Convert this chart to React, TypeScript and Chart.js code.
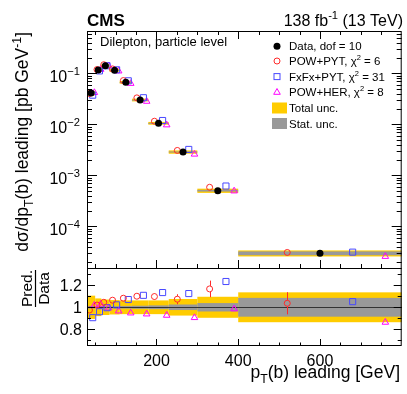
import { useEffect, useRef } from "react";
import { Chart, registerables } from "chart.js";

Chart.register(...registerables);

// ---------------- data ----------------
const binEdges = [30, 50, 65, 85, 110, 140, 180, 230, 300, 400, 800];
const dataValues = [0.0411, 0.116, 0.141, 0.1145, 0.0666, 0.02996, 0.01047, 0.00286, 0.000499, 0.0000296];
const totalUnc = [0.105, 0.08, 0.07, 0.065, 0.062, 0.062, 0.062, 0.075, 0.095, 0.135];
const statUnc = [0.012, 0.01, 0.01, 0.01, 0.012, 0.014, 0.017, 0.025, 0.038, 0.085];
const ratioPowPyt = [0.975, 1.02, 1.045, 1.064, 1.082, 1.1, 1.097, 1.073, 1.166, 1.036];
const errPowPyt = [0.008, 0.008, 0.01, 0.012, 0.015, 0.025, 0.03, 0.045, 0.075, 0.1];
const ratioFxFx = [0.906, 0.96, 0.996, 1.022, 1.07, 1.108, 1.133, 1.124, 1.233, 1.051];
const ratioPowHer = [1.018, 1.027, 0.993, 0.966, 0.948, 0.939, 0.927, 0.906, 0.985, 0.864];
const xTickLabels = ["200", "400", "600"];
const ratioTickLabels = ["0.8", "1", "1.2"];
const mainTickExponents = [-1, -2, -3, -4];
const legendLabels = ["Data, dof = 10", "POW+PYT, χ", "FxFx+PYT, χ", "POW+HER, χ", "Total unc.", "Stat. unc."];
const legendChi2 = ["", "6", "31", "8", "", ""];

// position of each marker inside its bin (fraction of bin width)
const fracData = 0.5;
const fracPowPyt = 0.3;
const fracFxFx = 0.7;
const fracPowHer = 0.9;

// ---------------- style ----------------
const FONT = "'Liberation Sans', Arial, Helvetica, sans-serif";
const YELLOW = "#ffcc00";
const GRAY = "#999999";
const RED = "#ff2a2a";
const BLUE = "#4848ff";
const MAGENTA = "#ff00ff";
const W = 407;
const H = 394;
const PAD_LEFT = 87;
const PAD_RIGHT = 4;
const MAIN_TOP = 31;
const SPLIT = 268;
const RATIO_BOTTOM = 346;

type Seg = { t: string; s?: number; dy?: number };

function drawRich(
  ctx: CanvasRenderingContext2D,
  segs: Seg[],
  x: number,
  y: number,
  size: number,
  align: "left" | "right" | "center",
  weight = "normal"
) {
  let w = 0;
  const widths: number[] = [];
  for (const s of segs) {
    ctx.font = `${weight} ${size * (s.s ?? 1)}px ${FONT}`;
    const ww = ctx.measureText(s.t).width;
    widths.push(ww);
    w += ww;
  }
  let cx = align === "left" ? x : align === "right" ? x - w : x - w / 2;
  ctx.textAlign = "left";
  ctx.textBaseline = "alphabetic";
  segs.forEach((s, i) => {
    ctx.font = `${weight} ${size * (s.s ?? 1)}px ${FONT}`;
    ctx.fillText(s.t, cx, y + (s.dy ?? 0) * size);
    cx += widths[i];
  });
}

function centers(frac: number) {
  return dataValues.map((_, i) => binEdges[i] + frac * (binEdges[i + 1] - binEdges[i]));
}

function line(ctx: CanvasRenderingContext2D, x0: number, y0: number, x1: number, y1: number) {
  ctx.beginPath();
  ctx.moveTo(x0, y0);
  ctx.lineTo(x1, y1);
  ctx.stroke();
}

function drawXTicks(ctx: CanvasRenderingContext2D, chart: any, top: boolean, bottom: boolean, maj: number, min: number) {
  const x = chart.scales.x;
  const a = chart.chartArea;
  for (let v = 50; v < 800; v += 50) {
    const px = Math.round(x.getPixelForValue(v)) + 0.5;
    const len = v % 200 === 0 ? maj : min;
    if (bottom) line(ctx, px, a.bottom, px, a.bottom - len);
    if (top) line(ctx, px, a.top, px, a.top + len);
  }
}

const mainPlugin = {
  id: "mainDecor",
  beforeDatasetsDraw(chart: any) {
    const { ctx } = chart;
    const x = chart.scales.x;
    const y = chart.scales.y;
    ctx.save();
    for (let i = 0; i < dataValues.length; i++) {
      const x0 = x.getPixelForValue(binEdges[i]);
      const x1 = x.getPixelForValue(binEdges[i + 1]);
      const v = dataValues[i];
      let yt = y.getPixelForValue(v * (1 + totalUnc[i]));
      let yb = y.getPixelForValue(v * (1 - totalUnc[i]));
      ctx.fillStyle = YELLOW;
      ctx.fillRect(x0, yt, x1 - x0, yb - yt);
      yt = y.getPixelForValue(v * (1 + statUnc[i]));
      yb = y.getPixelForValue(v * (1 - statUnc[i]));
      ctx.fillStyle = GRAY;
      ctx.fillRect(x0, yt, x1 - x0, Math.max(yb - yt, 1));
    }
    ctx.restore();
  },
  afterDraw(chart: any) {
    const { ctx } = chart;
    const a = chart.chartArea;
    const y = chart.scales.y;
    ctx.save();
    ctx.strokeStyle = "#000";
    ctx.lineWidth = 1;
    ctx.strokeRect(a.left + 0.5, a.top + 0.5, a.right - a.left - 1, a.bottom - a.top);
    drawXTicks(ctx, chart, true, true, 8, 4);
    // y ticks (log)
    for (let e = -5; e <= 0; e++) {
      for (let k = 1; k <= 9; k++) {
        const v = k * Math.pow(10, e);
        if (v < y.min || v > y.max) continue;
        const py = Math.round(y.getPixelForValue(v)) + 0.5;
        const len = k === 1 ? 10 : 5;
        line(ctx, a.left, py, a.left + len, py);
        line(ctx, a.right, py, a.right - len, py);
      }
    }
    ctx.fillStyle = "#000";
    // y labels
    for (const e of mainTickExponents) {
      const py = y.getPixelForValue(Math.pow(10, e));
      drawRich(ctx, [{ t: "10" }, { t: "\u2212" + String(-e), s: 0.7, dy: -0.42 }], 80, py + 8.5, 16, "right");
    }
    // y title
    ctx.save();
    ctx.translate(28, 32);
    ctx.rotate(-Math.PI / 2);
    drawRich(
      ctx,
      [
        { t: "dσ/dp" },
        { t: "T", s: 0.7, dy: 0.28 },
        { t: "(b) leading [pb GeV" },
        { t: "-1", s: 0.7, dy: -0.42 },
        { t: "]" },
      ],
      0,
      0,
      17.5,
      "right"
    );
    ctx.restore();
    // header
    drawRich(ctx, [{ t: "CMS" }], 87, 26, 17, "left", "bold");
    drawRich(
      ctx,
      [{ t: "138 fb" }, { t: "-1", s: 0.7, dy: -0.42 }, { t: " (13 TeV)" }],
      403,
      26,
      16,
      "right"
    );
    drawRich(ctx, [{ t: "Dilepton, particle level" }], 100, 46, 13, "left");
    // legend
    const lx = 277;
    const rows = [46.3, 61, 76.6, 92, 108, 123.5];
    ctx.fillStyle = "#000";
    ctx.beginPath();
    ctx.arc(lx, rows[0], 3.5, 0, Math.PI * 2);
    ctx.fill();
    ctx.lineWidth = 1;
    ctx.strokeStyle = RED;
    ctx.beginPath();
    ctx.arc(lx, rows[1], 3, 0, Math.PI * 2);
    ctx.stroke();
    ctx.strokeStyle = BLUE;
    ctx.strokeRect(lx - 3, rows[2] - 3, 6, 6);
    ctx.strokeStyle = MAGENTA;
    ctx.beginPath();
    ctx.moveTo(lx, rows[3] - 3.5);
    ctx.lineTo(lx + 3.3, rows[3] + 2.3);
    ctx.lineTo(lx - 3.3, rows[3] + 2.3);
    ctx.closePath();
    ctx.stroke();
    ctx.fillStyle = YELLOW;
    ctx.fillRect(272, rows[4] - 5.5, 15, 11);
    ctx.fillStyle = GRAY;
    ctx.fillRect(272, rows[5] - 5.5, 15, 11);
    ctx.fillStyle = "#000";
    legendLabels.forEach((lab, i) => {
      const segs: Seg[] = [{ t: lab }];
      if (legendChi2[i]) {
        segs.push({ t: "2", s: 0.65, dy: -0.45 });
        segs.push({ t: " = " + legendChi2[i] });
      }
      drawRich(ctx, segs, 289, rows[i] + 4.1, 11.5, "left");
    });
    ctx.restore();
  },
};

const ratioPlugin = {
  id: "ratioDecor",
  beforeDatasetsDraw(chart: any) {
    const { ctx } = chart;
    const x = chart.scales.x;
    const y = chart.scales.y;
    const a = chart.chartArea;
    ctx.save();
    for (let i = 0; i < dataValues.length; i++) {
      const x0 = x.getPixelForValue(binEdges[i]);
      const x1 = x.getPixelForValue(binEdges[i + 1]);
      let yt = y.getPixelForValue(1 + totalUnc[i]);
      let yb = y.getPixelForValue(1 - totalUnc[i]);
      ctx.fillStyle = YELLOW;
      ctx.fillRect(x0, yt, x1 - x0, yb - yt);
      yt = y.getPixelForValue(1 + statUnc[i]);
      yb = y.getPixelForValue(1 - statUnc[i]);
      ctx.fillStyle = GRAY;
      ctx.fillRect(x0, yt, x1 - x0, yb - yt);
    }
    ctx.strokeStyle = "#333";
    ctx.lineWidth = 1;
    const p1 = Math.round(y.getPixelForValue(1)) + 0.5;
    line(ctx, a.left, p1, a.right, p1);
    // POW+PYT error bars
    ctx.strokeStyle = RED;
    const cx = centers(fracPowPyt);
    cx.forEach((xv, i) => {
      const px = Math.round(x.getPixelForValue(xv)) + 0.5;
      const pc = y.getPixelForValue(ratioPowPyt[i]);
      const pt = y.getPixelForValue(ratioPowPyt[i] + errPowPyt[i]);
      const pb = y.getPixelForValue(ratioPowPyt[i] - errPowPyt[i]);
      if (pc - pt > 3) line(ctx, px, pt, px, pc - 3);
      if (pb - pc > 3) line(ctx, px, pc + 3, px, pb);
    });
    ctx.restore();
  },
  afterDraw(chart: any) {
    const { ctx } = chart;
    const a = chart.chartArea;
    const x = chart.scales.x;
    const y = chart.scales.y;
    ctx.save();
    ctx.strokeStyle = "#000";
    ctx.lineWidth = 1;
    ctx.strokeRect(a.left + 0.5, a.top + 0.5, a.right - a.left - 1, a.bottom - a.top - 1);
    drawXTicks(ctx, chart, false, true, 7, 3.5);
    for (let v = 0.7; v < 1.36; v += 0.1) {
      const py = Math.round(y.getPixelForValue(v)) + 0.5;
      const isMaj = Math.abs(Math.round(v * 10) % 2) === 0;
      const len = isMaj ? 8 : 4;
      line(ctx, a.left, py, a.left + len, py);
      line(ctx, a.right, py, a.right - len, py);
    }
    ctx.fillStyle = "#000";
    ratioTickLabels.forEach((lab) => {
      const py = y.getPixelForValue(parseFloat(lab));
      drawRich(ctx, [{ t: lab }], 82, py + 5.7, 16, "right");
    });
    xTickLabels.forEach((lab) => {
      const px = x.getPixelForValue(parseFloat(lab));
      drawRich(ctx, [{ t: lab }], px, 366, 16, "center");
    });
    drawRich(
      ctx,
      [{ t: "p" }, { t: "T", s: 0.7, dy: 0.28 }, { t: "(b) leading [GeV]" }],
      400,
      378,
      17.5,
      "right"
    );
    // ratio y title (rotated: (u, v) -> canvas (v, -u))
    ctx.save();
    ctx.rotate(-Math.PI / 2);
    const cyC = 288.5;
    drawRich(ctx, [{ t: "Pred." }], -cyC, 32, 15.5, "center");
    drawRich(ctx, [{ t: "Data" }], -cyC, 48.5, 15.5, "center");
    ctx.font = `15.5px ${FONT}`;
    const wP = ctx.measureText("Pred.").width;
    ctx.strokeStyle = "#000";
    ctx.lineWidth = 1.2;
    line(ctx, -cyC - wP / 2, 35.5, -cyC + wP / 2, 35.5);
    ctx.restore();
    ctx.restore();
  },
};

function pts(xs: number[], ys: number[]) {
  return xs.map((xv, i) => ({ x: xv, y: ys[i] }));
}

function markerSets(powpyt: number[], fxfx: number[], powher: number[]) {
  return [
    {
      type: "scatter" as const,
      label: "POW+PYT",
      data: pts(centers(fracPowPyt), powpyt),
      pointStyle: "circle",
      pointRadius: 3,
      pointHoverRadius: 3,
      backgroundColor: "rgba(255,255,255,0)",
      borderColor: RED,
      pointBorderColor: RED,
      borderWidth: 1,
    },
    {
      type: "scatter" as const,
      label: "FxFx+PYT",
      data: pts(centers(fracFxFx), fxfx),
      pointStyle: "rect",
      pointRadius: 4.3,
      pointHoverRadius: 4.3,
      backgroundColor: "rgba(255,255,255,0)",
      borderColor: BLUE,
      pointBorderColor: BLUE,
      borderWidth: 1,
    },
    {
      type: "scatter" as const,
      label: "POW+HER",
      data: pts(centers(fracPowHer), powher),
      pointStyle: "triangle",
      pointRadius: 3.8,
      pointHoverRadius: 3.8,
      backgroundColor: "rgba(255,255,255,0)",
      borderColor: MAGENTA,
      pointBorderColor: MAGENTA,
      borderWidth: 1,
    },
  ];
}

export default function App() {
  const mainRef = useRef<HTMLCanvasElement>(null);
  const ratioRef = useRef<HTMLCanvasElement>(null);

  useEffect(() => {
    const predPowPyt = dataValues.map((v, i) => v * ratioPowPyt[i]);
    const predFxFx = dataValues.map((v, i) => v * ratioFxFx[i]);
    const predPowHer = dataValues.map((v, i) => v * ratioPowHer[i]);

    const baseOptions = (top: number, bottom: number, y: any): any => ({
      animation: false,
      responsive: false,
      devicePixelRatio: 1,
      events: [],
      layout: { padding: { left: PAD_LEFT, right: PAD_RIGHT, top, bottom } },
      plugins: { legend: { display: false }, tooltip: { enabled: false }, title: { display: false } },
      scales: {
        x: { type: "linear", min: 30, max: 800, display: false },
        y: { ...y, display: false },
      },
    });

    const mainChart = new Chart(mainRef.current!, {
      type: "scatter",
      data: {
        datasets: [
          {
            type: "scatter",
            label: "Data",
            data: pts(centers(fracData), dataValues),
            pointStyle: "circle",
            pointRadius: 3.5,
            pointHoverRadius: 3.5,
            backgroundColor: "#000",
            borderColor: "#000",
            borderWidth: 0,
          } as any,
          ...(markerSets(predPowPyt, predFxFx, predPowHer) as any[]),
        ],
      },
      options: baseOptions(MAIN_TOP, H - SPLIT, { type: "logarithmic", min: 1.52e-5, max: 0.675 }),
      plugins: [mainPlugin],
    });

    const ratioChart = new Chart(ratioRef.current!, {
      type: "scatter",
      data: { datasets: markerSets(ratioPowPyt, ratioFxFx, ratioPowHer) as any[] },
      options: baseOptions(SPLIT, H - RATIO_BOTTOM, { type: "linear", min: 0.65, max: 1.355 }),
      plugins: [ratioPlugin],
    });

    return () => {
      mainChart.destroy();
      ratioChart.destroy();
    };
  }, []);

  const cs: any = { position: "absolute", left: 0, top: 0, width: W, height: H };
  return (
    <div style={{ position: "fixed", left: 0, top: 0, width: W, height: H, background: "#fff" }}>
      <canvas ref={mainRef} width={W} height={H} style={cs} />
      <canvas ref={ratioRef} width={W} height={H} style={cs} />
    </div>
  );
}
